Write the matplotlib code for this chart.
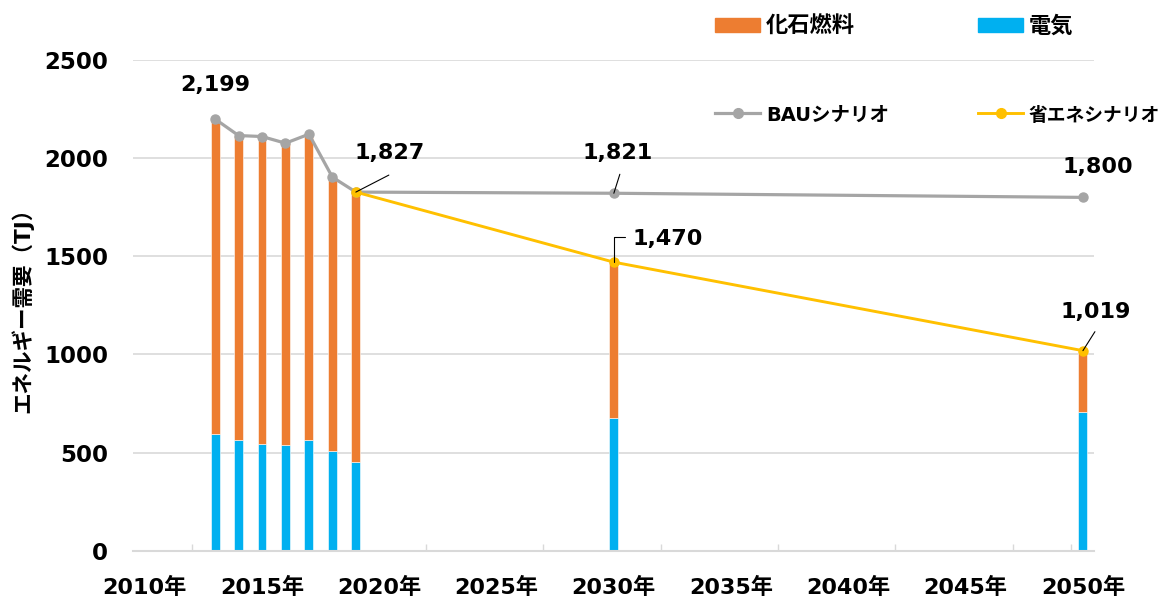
import numpy as np
import matplotlib
matplotlib.use("Agg")
import matplotlib.pyplot as plt
from matplotlib.patches import Patch
from matplotlib.lines import Line2D

plt.rcParams['font.family'] = ['DejaVu Sans', 'Noto Sans CJK JP']
plt.rcParams['font.weight'] = 'bold'

# --- data ---
years = [2013, 2014, 2015, 2016, 2017, 2018, 2019, 2030, 2050]
electricity = [593, 564, 543, 541, 566, 510, 454, 678, 705]
total = [2199, 2115, 2110, 2076, 2122, 1903, 1827, 1470, 1019]
fossil = [t - e for t, e in zip(total, electricity)]

bau_years = [2013, 2014, 2015, 2016, 2017, 2018, 2019, 2030, 2050]
bau = [2199, 2115, 2110, 2076, 2122, 1903, 1827, 1821, 1800]
save_years = [2019, 2030, 2050]
save = [1827, 1470, 1019]

xtick_years = [2010, 2015, 2020, 2025, 2030, 2035, 2040, 2045, 2050]
xtick_labels = [f"{y}年" for y in xtick_years]
minor_ticks = [2012, 2017, 2022, 2027, 2032, 2037, 2042, 2047, 2049.5]

C_FOSSIL = '#ED7D31'
C_ELEC = '#00B0F0'
C_BAU = '#A5A5A5'
C_SAVE = '#FFC000'
C_GRID = '#D9D9D9'

fig = plt.figure(figsize=(11.68, 5.98), dpi=100)
ax = fig.add_axes([0.1139, 0.0791, 0.8227, 0.8206])

bw = 0.38
ax.bar(years, electricity, width=bw, color=C_ELEC, edgecolor='white', linewidth=0.4, zorder=2)
ax.bar(years, fossil, width=bw, bottom=electricity, color=C_FOSSIL, edgecolor='white',
       linewidth=0.4, zorder=2)

ax.plot(bau_years, bau, color=C_BAU, lw=2.3, marker='o', ms=6.5, zorder=3)
ax.plot(save_years, save, color=C_SAVE, lw=2.1, marker='o', ms=6.5, zorder=4)

# data labels: (x, y, text offset px, leader end offset px or None, elbow)
labels = [
    (bau_years[0], bau[0], (0, 34), None, False),
    (save_years[0], save[0], (34, 39), (33, 17), False),
    (bau_years[7], bau[7], (4, 40), (6, 19), False),
    (save_years[1], save[1], (54, 23), (11, 25), True),
    (bau_years[8], bau[8], (15, 30), None, False),
    (save_years[2], save[2], (13, 39), (12, 19), False),
]
for x, y, toff, loff, elbow in labels:
    ax.annotate(f"{y:,}", xy=(x, y), xytext=toff, textcoords='offset pixels',
                ha='center', va='center', fontsize=16, fontweight='bold', zorder=6)
    if loff is not None:
        cs = 'angle,angleA=0,angleB=90,rad=0' if elbow else 'arc3'
        ax.annotate('', xy=(x, y), xytext=loff, textcoords='offset pixels',
                    arrowprops=dict(arrowstyle='-', color='black', lw=0.8,
                                    shrinkA=0, shrinkB=0, connectionstyle=cs),
                    zorder=6)

ax.set_xlim(2009.5, 2050.47)
ax.set_ylim(0, 2500)
ax.set_yticks([0, 500, 1000, 1500, 2000, 2500])
ax.set_xticks(xtick_years)
ax.set_xticklabels(xtick_labels)
ax.set_xticks(minor_ticks, minor=True)
ax.tick_params(axis='x', which='major', length=0, pad=19, labelsize=16)
ax.tick_params(axis='x', which='minor', length=5, direction='in', color=C_GRID, width=1)
ax.tick_params(axis='y', length=0, pad=18, labelsize=16.5)
for lab in ax.get_xticklabels() + ax.get_yticklabels():
    lab.set_fontweight('bold')

ax.grid(axis='y', color=C_GRID, lw=1.2, zorder=0)
ax.set_axisbelow(True)
for s in ['top', 'right', 'left']:
    ax.spines[s].set_visible(False)
ax.spines['bottom'].set_color(C_GRID)
ax.spines['bottom'].set_linewidth(1.5)

ax.set_ylabel('エネルギー需要（TJ）', fontsize=15.5, fontweight='bold', labelpad=8)

handles = [
    Patch(color=C_FOSSIL, label='化石燃料'),
    Line2D([], [], color=C_BAU, lw=2.3, marker='o', ms=7, label='BAUシナリオ'),
    Patch(color=C_ELEC, label='電気'),
    Line2D([], [], color=C_SAVE, lw=2.1, marker='o', ms=7, label='省エネシナリオ'),
]
leg = fig.legend(handles=handles, ncol=2, loc='upper left', bbox_to_anchor=(0.6025, 0.993),
                 frameon=False, prop={'size': 16, 'weight': 'bold'},
                 handlelength=2.05, handleheight=0.55, handletextpad=0.25,
                 columnspacing=4.0, labelspacing=3.1, borderpad=0)
texts = leg.get_texts()
texts[1].set_fontsize(14)
texts[3].set_fontsize(13.5)

fig.savefig('out.png', dpi=100)
